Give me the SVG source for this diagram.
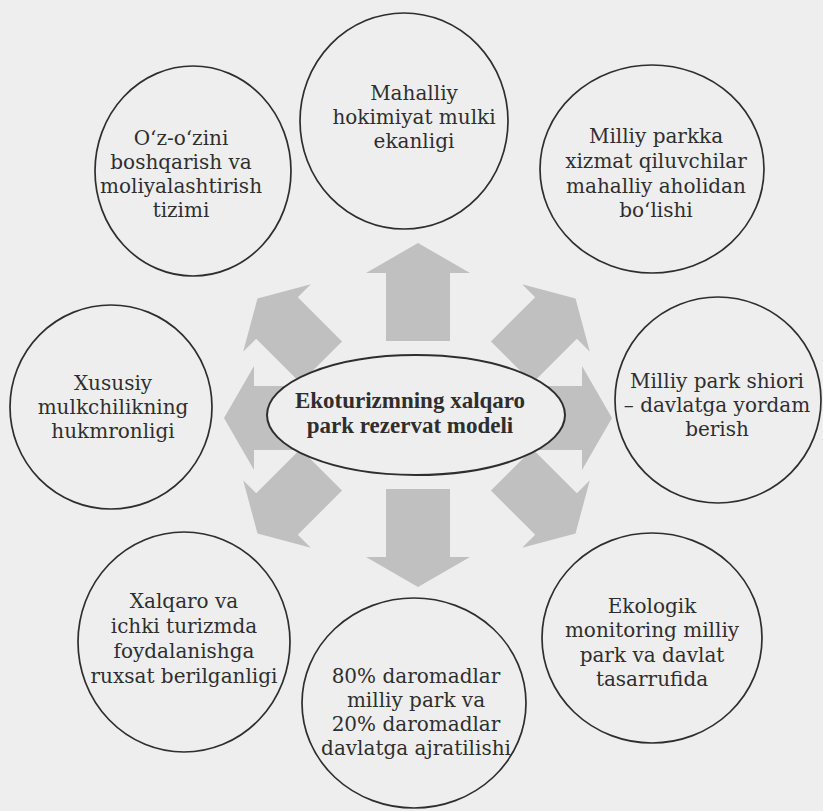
<svg xmlns="http://www.w3.org/2000/svg" width="823" height="811" viewBox="0 0 823 811">
  <style>
    .node { fill: none; stroke: #2e2e2e; stroke-width: 1.7; }
    .core { fill: #eeeeee; stroke: #2e2e2e; stroke-width: 2; }
    .t { font-family: "DejaVu Serif", "Liberation Serif", serif; font-size: 20px; fill: #2e2e2e; text-anchor: middle; }
    .tb { font-family: "Liberation Serif", "DejaVu Serif", serif; font-size: 23px; font-weight: bold; fill: #2e2e2e; text-anchor: middle; }
    .arr { fill: #c0c0c0; }
  </style>
  <defs>
    <path id="arrow" d="M0,-50 L52,-20 L32,-20 L32,48 L-32,48 L-32,-20 L-52,-20 Z"/>
  </defs>
  <rect x="0" y="0" width="823" height="811" fill="#eeeeee"/>

  <g id="connectors" class="arr">
    <use href="#arrow" transform="translate(418,293)"/>
    <use href="#arrow" transform="translate(418,537) rotate(180)"/>
    <use href="#arrow" transform="translate(274,418) rotate(-90)"/>
    <use href="#arrow" transform="translate(562,418) rotate(90)"/>
    <use href="#arrow" transform="translate(290,331) rotate(-45) scale(0.92)"/>
    <use href="#arrow" transform="translate(543,331) rotate(45) scale(0.92)"/>
    <use href="#arrow" transform="translate(290,501) rotate(-135) scale(0.92)"/>
    <use href="#arrow" transform="translate(543,501) rotate(135) scale(0.92)"/>
  </g>

  <g id="center">
    <ellipse class="core" cx="416" cy="415" rx="149" ry="60"/>
    <text class="tb" x="410" y="408">Ekoturizmning xalqaro</text>
    <text class="tb" x="410" y="433">park rezervat modeli</text>
  </g>

  <g id="n-top">
    <ellipse class="node" cx="404" cy="121" rx="104" ry="108"/>
    <text class="t" x="414" y="100">Mahalliy</text>
    <text class="t" x="414" y="124">hokimiyat mulki</text>
    <text class="t" x="414" y="148">ekanligi</text>
  </g>

  <g id="n-topleft">
    <ellipse class="node" cx="193" cy="171" rx="98" ry="105"/>
    <text class="t" x="181" y="145">O‘z-o‘zini</text>
    <text class="t" x="181" y="169">boshqarish va</text>
    <text class="t" x="181" y="193">moliyalashtirish</text>
    <text class="t" x="181" y="217">tizimi</text>
  </g>

  <g id="n-topright">
    <ellipse class="node" cx="652" cy="169" rx="112" ry="104"/>
    <text class="t" x="656" y="143">Milliy parkka</text>
    <text class="t" x="656" y="168">xizmat qiluvchilar</text>
    <text class="t" x="656" y="193">mahalliy aholidan</text>
    <text class="t" x="656" y="217">bo‘lishi</text>
  </g>

  <g id="n-right">
    <ellipse class="node" cx="718" cy="400" rx="103" ry="103"/>
    <text class="t" x="717" y="388">Milliy park shiori</text>
    <text class="t" x="717" y="412">– davlatga yordam</text>
    <text class="t" x="717" y="436">berish</text>
  </g>

  <g id="n-left">
    <ellipse class="node" cx="111" cy="407" rx="101" ry="102"/>
    <text class="t" x="113" y="390">Xususiy</text>
    <text class="t" x="113" y="414">mulkchilikning</text>
    <text class="t" x="113" y="438">hukmronligi</text>
  </g>

  <g id="n-bottomleft">
    <ellipse class="node" cx="184" cy="642" rx="106" ry="110"/>
    <text class="t" x="184" y="608">Xalqaro va</text>
    <text class="t" x="184" y="633">ichki turizmda</text>
    <text class="t" x="184" y="658">foydalanishga</text>
    <text class="t" x="184" y="683">ruxsat berilganligi</text>
  </g>

  <g id="n-bottom">
    <ellipse class="node" cx="414" cy="703" rx="112" ry="105"/>
    <text class="t" x="416" y="683">80% daromadlar</text>
    <text class="t" x="416" y="707">milliy park va</text>
    <text class="t" x="416" y="731">20% daromadlar</text>
    <text class="t" x="416" y="755">davlatga ajratilishi</text>
  </g>

  <g id="n-bottomright">
    <ellipse class="node" cx="652" cy="638" rx="110" ry="105"/>
    <text class="t" x="652" y="613">Ekologik</text>
    <text class="t" x="652" y="637">monitoring milliy</text>
    <text class="t" x="652" y="662">park va davlat</text>
    <text class="t" x="652" y="686">tasarrufida</text>
  </g>
</svg>
